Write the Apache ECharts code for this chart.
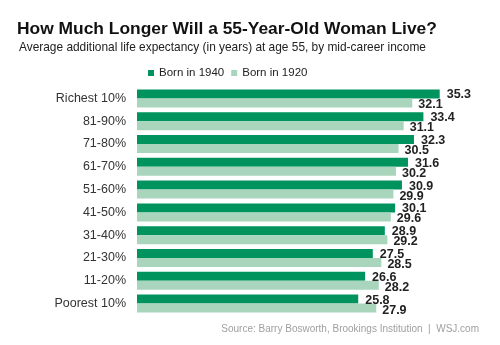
<!DOCTYPE html>
<html><head><meta charset="utf-8">
<script src="https://cdn.jsdelivr.net/npm/echarts@6/dist/echarts.min.js"></script>
<style>html,body{margin:0;padding:0;background:#fff}#c{width:500px;height:345px}</style>
</head><body><div id="c"></div>
<script>
const categories = ['Richest 10%','81-90%','71-80%','61-70%','51-60%','41-50%','31-40%','21-30%','11-20%','Poorest 10%'];
const born1940 = [35.3,33.4,32.3,31.6,30.9,30.1,28.9,27.5,26.6,25.8];
const born1920 = [32.1,31.1,30.5,30.2,29.9,29.6,29.2,28.5,28.2,27.9];
const chart = echarts.init(document.getElementById('c'));
const F = 'Arial, "Liberation Sans", sans-serif';
chart.setOption({
  animation:false,
  title:[
    {text:'How Much Longer Will a 55-Year-Old Woman Live?',left:12,top:16,textStyle:{fontFamily:F,fontSize:17.4,fontWeight:'bold',color:'#111'}},
    {text:'Average additional life expectancy (in years) at age 55, by mid-career income',left:14,top:37,textStyle:{fontFamily:F,fontSize:11.9,fontWeight:'normal',color:'#222'}},
    {text:'Source: Barry Bosworth, Brookings Institution  |  WSJ.com',right:16,top:319,textStyle:{fontFamily:F,fontSize:10,fontWeight:'normal',color:'#a0a0a0'}}
  ],
  legend:{top:62,left:143,itemWidth:6,itemHeight:6,itemGap:7,icon:'rect',textStyle:{fontFamily:F,fontSize:11.5,color:'#222'},
    data:['Born in 1940','Born in 1920']},
  grid:{left:137,top:87,width:343,height:228},
  xAxis:{type:'value',min:0,max:40,show:false},
  yAxis:{type:'category',data:categories,inverse:true,axisLine:{show:false},axisTick:{show:false},
    axisLabel:{fontFamily:F,fontSize:12.5,color:'#333',margin:11}},
  series:[
    {name:'Born in 1940',type:'bar',data:born1940,barGap:'0%',barCategoryGap:'21%',itemStyle:{color:'#00935e'},
      label:{show:true,position:'right',distance:7,offset:[0,1],fontFamily:F,fontSize:12.5,fontWeight:'bold',color:'#222'}},
    {name:'Born in 1920',type:'bar',data:born1920,itemStyle:{color:'#a9d5bd'},
      label:{show:true,position:'right',distance:6,offset:[0,2],fontFamily:F,fontSize:12.5,fontWeight:'bold',color:'#222'}}
  ]
});
</script></body></html>
